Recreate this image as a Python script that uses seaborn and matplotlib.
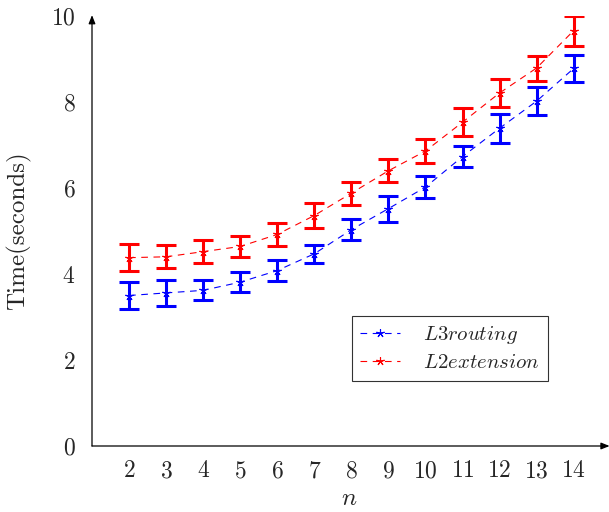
import matplotlib
matplotlib.use("Agg")
import matplotlib.pyplot as plt
import seaborn as sns
import pandas as pd

n_values = [2, 3, 4, 5, 6, 7, 8, 9, 10, 11, 12, 13, 14]
l3_mean = [3.50, 3.56, 3.62, 3.81, 4.08, 4.47, 5.03, 5.52, 6.02, 6.73, 7.39, 8.02, 8.78]
l3_err = [0.31, 0.30, 0.23, 0.24, 0.25, 0.21, 0.25, 0.30, 0.25, 0.25, 0.34, 0.32, 0.32]
l2_mean = [4.38, 4.40, 4.52, 4.64, 4.92, 5.36, 5.88, 6.40, 6.86, 7.53, 8.21, 8.79, 9.66]
l2_err = [0.31, 0.27, 0.27, 0.25, 0.26, 0.30, 0.27, 0.27, 0.28, 0.33, 0.33, 0.29, 0.35]
series_names = ["$L3routing$", "$L2extension$"]
colors = ["#0000ff", "#ff0000"]
x_ticks = list(range(2, 15))
y_ticks = [0, 2, 4, 6, 8, 10]

sns.set_style("white")
plt.rcParams["font.family"] = ["cmr10", "DejaVu Serif"]
plt.rcParams["mathtext.fontset"] = "cm"
plt.rcParams["axes.formatter.use_mathtext"] = True

df = pd.concat([
    pd.DataFrame({"n": n_values, "time": l3_mean, "err": l3_err, "series": series_names[0]}),
    pd.DataFrame({"n": n_values, "time": l2_mean, "err": l2_err, "series": series_names[1]}),
])

fig = plt.figure(figsize=(6.09, 5.12), dpi=100)
ax = fig.add_axes([92 / 609, 66 / 512, 515 / 609, 430 / 512])

for name, col in zip(series_names, colors):
    sub = df[df["series"] == name]
    ax.errorbar(sub["n"], sub["time"], yerr=sub["err"], fmt="none", ecolor=col,
                elinewidth=2.2, capsize=7.5, capthick=2.2, zorder=2)

n_before = len(ax.get_lines())
star = (5, 2, 0)
sns.lineplot(data=df, x="n", y="time", hue="series", style="series",
             palette=colors, ax=ax,
             dashes={series_names[0]: (6, 5), series_names[1]: (6, 5)},
             markers={series_names[0]: star, series_names[1]: star},
             markersize=6, markeredgewidth=0.8, linewidth=0.8, zorder=3)
for line in ax.get_lines()[n_before:]:
    line.set_markeredgecolor(line.get_color())

ax.set_xlim(1, 14.9)
ax.set_ylim(0, 10)
ax.set_xticks(x_ticks)
ax.set_yticks(y_ticks)
ax.set_xticklabels([f"${v}$" for v in x_ticks])
ax.set_yticklabels([f"${v}$" for v in y_ticks])
ax.tick_params(axis="both", direction="inout", length=8, width=0.8, color="#999999",
               labelsize=17, pad=6)
ax.tick_params(axis="y", pad=8)
for s in ["top", "right", "left", "bottom"]:
    ax.spines[s].set_visible(False)
ax.annotate("", xy=(1.005, 0), xytext=(0, 0), xycoords="axes fraction",
            arrowprops=dict(arrowstyle="-|>,head_length=0.5,head_width=0.2", color="black",
                            lw=0.9, shrinkA=0, shrinkB=0), annotation_clip=False)
ax.annotate("", xy=(0, 1.002), xytext=(0, 0), xycoords="axes fraction",
            arrowprops=dict(arrowstyle="-|>,head_length=0.5,head_width=0.2", color="black",
                            lw=0.9, shrinkA=0, shrinkB=0), annotation_clip=False)

ax.set_xlabel("$n$", fontsize=18, labelpad=4)
ax.set_ylabel("Time(seconds)", fontsize=18, labelpad=14)
ax.grid(False)

leg = ax.legend(loc="upper left", bbox_to_anchor=(260 / 515, 1 - (316 - 16) / 430),
                borderaxespad=0,
                frameon=True, fancybox=False, edgecolor="black", fontsize=15,
                handlelength=1.9, borderpad=0.4, labelspacing=0.35, handletextpad=1.1)
leg.get_frame().set_linewidth(0.8)
for line in leg.get_lines():
    line.set_markeredgecolor(line.get_color())
    line.set_markersize(6)
leg.set_title(None)

fig.savefig("out.png", dpi=100)
